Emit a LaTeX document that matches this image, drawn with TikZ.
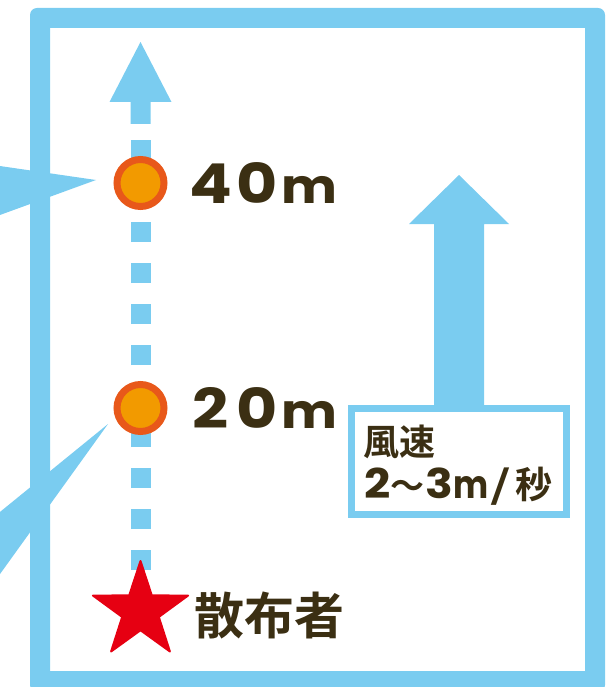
\documentclass[tikz,border=0pt]{standalone}
\usepackage{fontspec}
\usepackage{graphicx}
\usetikzlibrary{shapes.geometric}
\newfontfamily\jpfont{Noto Sans CJK JP Bold}
\IfFontExistsTF{Poppins Bold}
  {\newfontfamily\numfont{Poppins Bold}}
  {\newfontfamily\numfont{DejaVu Sans Bold}}
\definecolor{sky}{HTML}{7ACCF0}
\definecolor{orfill}{HTML}{F29A00}
\definecolor{orline}{HTML}{E8581A}
\definecolor{ink}{HTML}{3B2F13}
\definecolor{starred}{HTML}{E60012}
\newcommand{\xs}[2]{\scalebox{#1}[1]{#2}}
\newcommand{\cbox}[2]{\makebox[#1pt][c]{#2}}
\begin{document}
\begin{tikzpicture}[x=1pt,y=-1pt,
  txt/.style={anchor=base west, inner sep=0pt, outer sep=0pt, text=ink},
  dot/.style={circle, fill=orfill, draw=orline, line width=7pt, minimum size=47pt, inner sep=0pt},
  skyfill/.style={fill=sky, draw=none}]
\useasboundingbox (0,0) rectangle (614,687);
\clip (0,0) rectangle (614,687);
% frame
\path[fill=sky, even odd rule] [rounded corners=7pt] (30,8) rectangle (605,692) [sharp corners] (50,28) rectangle (585,671);
% pointer wedges
\coordinate (w1tip) at (96,180);
\coordinate (w2tip) at (108,424);
\fill[skyfill] (-5,165.3) -- (w1tip) -- (-5,216.8) -- cycle;
\fill[skyfill] (-5,516) -- (w2tip) -- (-5,581) -- cycle;
% dashed path with arrow
\coordinate (spread) at (140.5,611);
\coordinate (arrowbase) at (140.5,119);
\draw[sky, line width=20pt, dash pattern=on 20pt off 21pt] (spread) -- (arrowbase);
\fill[skyfill] (130.5,124) -- (130.5,102) -- (109.5,102) -- (140.5,42) -- (171.5,102) -- (150.5,102) -- (150.5,124) -- cycle;
% wind arrow
\fill[skyfill] (434,412) -- (434,224) -- (409,224) -- (459,175) -- (509,224) -- (484,224) -- (484,412) -- cycle;
\node[draw=sky, line width=7pt, fill=white, minimum width=215pt, minimum height=106pt, inner sep=0pt] (wind) at (459,461.5) {};
% points
\node[dot] (c40) at (140.5,183) {};
\node[dot] (c20) at (140.5,408) {};
\node[star, star points=5, star point ratio=2.6, minimum size=100pt, inner sep=0pt, fill=starred, draw=starred, line width=2pt, line join=round] (star) at (spread) {};
% labels
\node[txt, font=\numfont\fontsize{55}{55}\selectfont] (l40) at (187,203)
  {\cbox{47}{\xs{1.15}{4}}\cbox{47}{\xs{1.15}{0}}\cbox{57}{\fontsize{48}{48}\selectfont\xs{1.1}{m}}};
\node[txt, font=\numfont\fontsize{55}{55}\selectfont] (l20) at (187,428)
  {\cbox{47}{\xs{1.15}{2}}\cbox{47}{\xs{1.15}{0}}\cbox{57}{\fontsize{48}{48}\selectfont\xs{1.1}{m}}};
\node[txt, font=\jpfont\fontsize{36}{36}\selectfont] (wl1) at (363,455.5) {風速};
\node[txt, font=\numfont\fontsize{41}{41}\selectfont] (wl2) at (362,498)
  {\cbox{31}{\xs{1.12}{2}}\cbox{28}{\jpfont\fontsize{34}{34}\selectfont 〜}\cbox{37}{\xs{1.12}{3}}\cbox{26}{\fontsize{39}{39}\selectfont\xs{0.85}{m}}\cbox{34}{\jpfont\fontsize{38}{38}\selectfont\xs{1.4}{/}}\cbox{31}{\jpfont\fontsize{37}{37}\selectfont 秒}};
\node[txt, font=\jpfont\fontsize{50}{50}\selectfont] (who) at (194.5,634) {散布者};
\end{tikzpicture}
\end{document}
